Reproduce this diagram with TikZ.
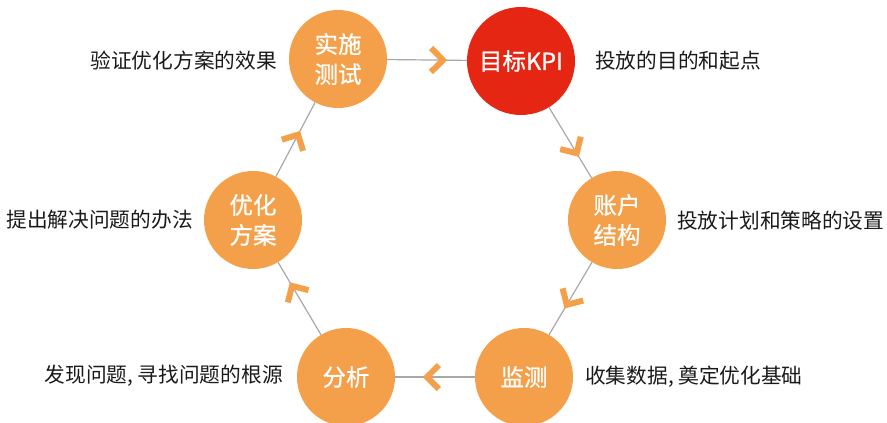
\documentclass[tikz,border=0pt]{standalone}
\usepackage{fontspec}
\setmainfont{Noto Sans CJK SC}
\newfontfamily\stagefont[FakeBold=0.8]{Noto Sans CJK SC}
\usetikzlibrary{calc}
\definecolor{org}{HTML}{F4A04A}
\definecolor{kred}{HTML}{E42613}
\definecolor{lgray}{HTML}{A8A8A8}
\definecolor{txt}{HTML}{1A1A1A}
\tikzset{
  stage/.style={circle, inner sep=0pt, minimum size=98pt, fill=org, text=white,
    align=center, font=\stagefont\fontsize{23.5}{30}\selectfont},
  kpi/.style={stage, minimum size=108pt, fill=kred},
  desc/.style={text=txt, inner sep=0pt, font=\fontsize{20.7}{24}\selectfont},
  link/.style={draw=lgray, line width=1.2pt},
  chev/.style={draw=org, line width=6pt, line join=miter}
}
% #1 source node, #2 target node, #3 fraction where the tip sits
\newcommand{\chevronmark}[3]{%
  \coordinate (T) at ($(#1.center)!#3!(#2.center)$);
  \coordinate (B) at ($(T)!12pt!(#1.center)$);
  \draw[chev] ($(B)!12pt!90:(T)$) -- (T) -- ($(B)!12pt!-90:(T)$);
}
\begin{document}
\begin{tikzpicture}[x=1pt,y=-1pt]
\useasboundingbox (0,0) rectangle (887,423);
\clip (0,0) rectangle (887,423);
% circles
\node[stage] (test) at (338,59) {实施\\测试};
\node[kpi]   (kpi)  at (521,61) {目标KPI};
\node[stage] (acct) at (617,220) {账户\\结构};
\node[stage] (mon)  at (524,377) {监测};
\node[stage] (ana)  at (346,377) {分析};
\node[stage] (opt)  at (253,220) {优化\\方案};
% connectors
\draw[link] (test) -- (kpi);
\draw[link] (kpi) -- (acct);
\draw[link] (acct) -- (mon);
\draw[link] (mon) -- (ana);
\draw[link] (ana) -- (opt);
\draw[link] (opt) -- (test);
% chevrons
\chevronmark{test}{kpi}{0.574}
\chevronmark{kpi}{acct}{0.58}
\chevronmark{acct}{mon}{0.54}
\chevronmark{mon}{ana}{0.545}
\chevronmark{ana}{opt}{0.58}
\chevronmark{opt}{test}{0.53}
% labels
\node[desc, anchor=east] (ltest) at (277,61) {验证优化方案的效果};
\node[desc, anchor=west] (lkpi)  at (595,61) {投放的目的和起点};
\node[desc, anchor=west] (lacct) at (677,221) {投放计划和策略的设置};
\node[desc, anchor=west] (lmon)  at (585,377) {收集数据, 奠定优化基础};
\node[desc, anchor=east] (lana)  at (283,376) {发现问题, 寻找问题的根源};
\node[desc, anchor=east] (lopt)  at (193,220) {提出解决问题的办法};
\end{tikzpicture}
\end{document}
